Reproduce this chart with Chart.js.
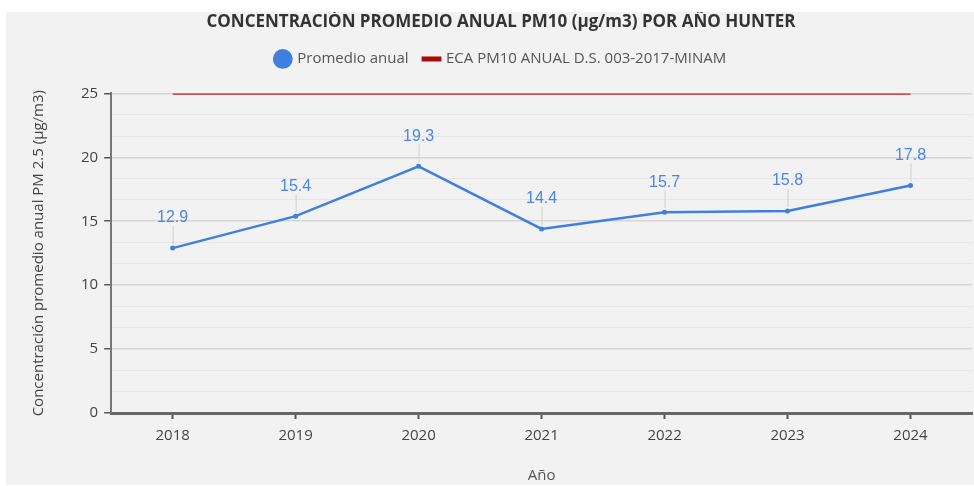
<!DOCTYPE html>
<html>
<head>
<meta charset="utf-8">
<script src="https://cdn.jsdelivr.net/npm/chart.js@4.4.1/dist/chart.umd.min.js"></script>
<style>
  html, body { margin: 0; padding: 0; background: #ffffff; overflow: hidden; }
  #wrap { position: absolute; left: 6px; top: 12px; width: 988px; height: 473px; background: #f2f2f2; }
</style>
</head>
<body>
<div id="wrap"><canvas id="myChart"></canvas></div>
<script>
// datos
const years = ['2018', '2019', '2020', '2021', '2022', '2023', '2024'];
const promedio = [12.9, 15.4, 19.3, 14.4, 15.7, 15.8, 17.8];
const eca = [25, 25, 25, 25, 25, 25, 25];
const yTicks = [0, 5, 10, 15, 20, 25];

const blue = '#3f7fe0';
const red = '#bf2025';

function isMajor(v) {
    return Math.abs(v / 5 - Math.round(v / 5)) < 1e-6;
}

// etiquetas con linea guia encima de cada punto
const callouts = {
    id: 'callouts',
    afterDatasetsDraw(chart) {
        const ctx = chart.ctx;
        const meta = chart.getDatasetMeta(0);
        ctx.save();
        meta.data.forEach((pt, i) => {
            ctx.strokeStyle = '#d0d0d0';
            ctx.lineWidth = 1;
            ctx.beginPath();
            ctx.moveTo(pt.x + 0.5, pt.y - 4);
            ctx.lineTo(pt.x + 0.5, pt.y - 22);
            ctx.stroke();
            ctx.font = '16px "Liberation Sans", Arial, sans-serif';
            ctx.fillStyle = '#4a86e8';
            ctx.textAlign = 'center';
            ctx.textBaseline = 'middle';
            ctx.fillText(promedio[i].toFixed(1), pt.x, pt.y - 30);
        });
        ctx.restore();
    }
};

// espacio extra debajo de la leyenda
const legendGap = {
    id: 'legendGap',
    beforeInit(chart) {
        const fit = chart.legend.fit;
        chart.legend.fit = function() {
            fit.bind(chart.legend)();
            this.height += 17;
        };
    }
};

let ctx = document.getElementById('myChart').getContext('2d');

let myChart = new Chart(ctx, {
    type: 'line',
    data: {
        labels: years,
        datasets: [{
                label: 'Promedio anual',
                data: promedio,
                borderColor: blue,
                backgroundColor: blue,
                borderWidth: 2.5,
                pointRadius: 2.5,
                pointBorderWidth: 0,
                pointStyle: 'circle',
                tension: 0,
            },
            {
                label: 'ECA PM10 ANUAL D.S. 003-2017-MINAM',
                data: eca,
                borderColor: red,
                backgroundColor: red,
                borderWidth: 2.5,
                pointRadius: 0,
                pointStyle: 'line',
                tension: 0,
            }
        ]
    },
    options: {
        responsive: true,
        maintainAspectRatio: false,
        animation: false,
        layout: {
            padding: { left: 24, right: 22, top: 0, bottom: 0 }
        },
        plugins: {
            title: {
                display: true,
                text: 'CONCENTRACIÓN PROMEDIO ANUAL PM10 (µg/m3) POR AÑO HUNTER',
                color: '#333333',
                font: { family: '"Open Sans", sans-serif', size: 17, weight: 'bold' },
                padding: { top: 0, bottom: 3 }
            },
            legend: {
                display: true,
                labels: {
                    usePointStyle: true,
                    color: '#555555',
                    boxWidth: 14,
                    boxHeight: 14,
                    padding: 16,
                    font: { family: '"Open Sans", sans-serif', size: 15 },
                    generateLabels(chart) {
                        return chart.data.datasets.map((ds, i) => ({
                            text: ds.label,
                            fillStyle: i === 1 ? '#a80c0c' : ds.borderColor,
                            strokeStyle: i === 1 ? '#a80c0c' : ds.borderColor,
                            lineWidth: i === 1 ? 5 : 0,
                            pointStyle: ds.pointStyle,
                            fontColor: '#555555',
                            datasetIndex: i
                        }));
                    }
                }
            },
            tooltip: { enabled: false }
        },
        scales: {
            x: {
                offset: true,
                grid: {
                    drawOnChartArea: false,
                    drawTicks: true,
                    tickLength: 6,
                    tickColor: '#555555',
                    tickWidth: 2
                },
                border: { color: '#666666', width: 3 },
                ticks: {
                    color: '#444444',
                    padding: 8,
                    font: { family: '"Open Sans", sans-serif', size: 15 }
                },
                title: {
                    display: true,
                    text: 'Año',
                    color: '#555555',
                    padding: { top: 14, bottom: 0 },
                    font: { family: '"Open Sans", sans-serif', size: 15 }
                }
            },
            y: {
                min: yTicks[0],
                max: yTicks[yTicks.length - 1],
                grid: {
                    color: (c) => isMajor(c.tick.value) ? '#d6d6d6' : '#e6e6e6',
                    lineWidth: (c) => isMajor(c.tick.value) ? 1.5 : 1,
                    tickColor: (c) => isMajor(c.tick.value) ? '#555555' : 'rgba(0,0,0,0)',
                    tickLength: 7
                },
                border: { color: '#777777', width: 2 },
                ticks: {
                    stepSize: 5 / 3,
                    autoSkip: false,
                    color: '#444444',
                    padding: 6,
                    font: { family: '"Open Sans", sans-serif', size: 15 },
                    callback: function(value) {
                        if (isMajor(value)) {
                            return String(Math.round(value));
                        }
                        return '';
                    }
                },
                title: {
                    display: true,
                    text: 'Concentración promedio anual PM 2.5 (µg/m3)',
                    color: '#444444',
                    padding: { top: 0, bottom: 27 },
                    font: { family: '"Open Sans", sans-serif', size: 15 }
                }
            }
        }
    },
    plugins: [callouts, legendGap]
});
</script>
</body>
</html>
